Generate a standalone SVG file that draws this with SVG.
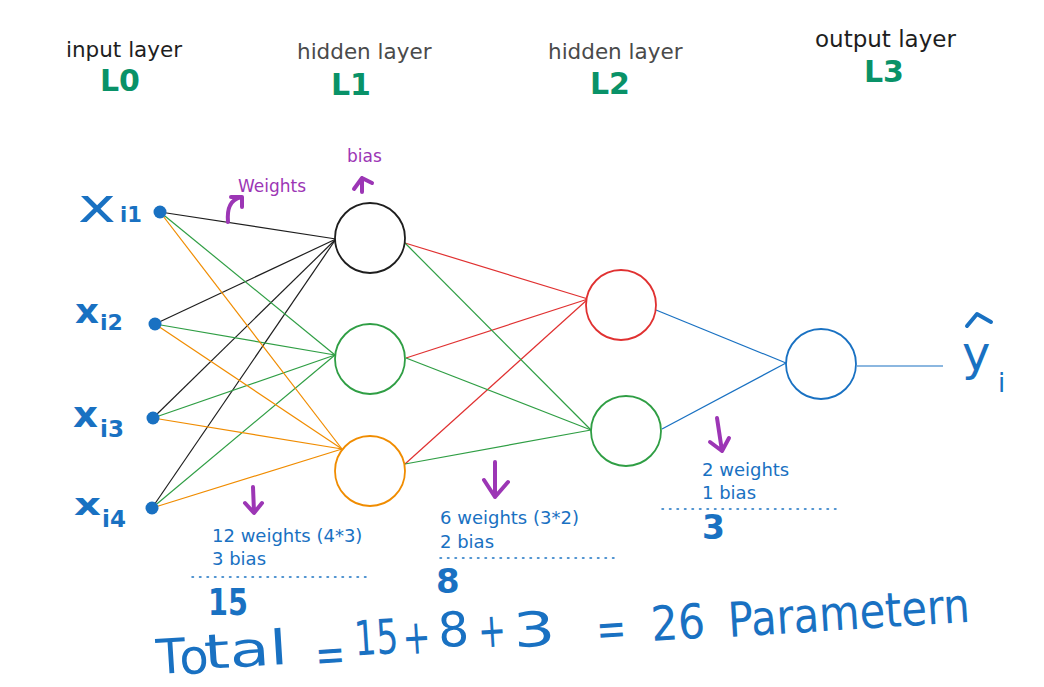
<svg xmlns="http://www.w3.org/2000/svg" width="1044" height="687" viewBox="0 0 1044 687">
<style>
text{font-family:"DejaVu Sans","Liberation Sans",sans-serif}
.lbl{font-size:21.5px}
.lay{font-size:30px;font-weight:bold;fill:#099268}
.pur{font-size:17px;fill:#9c36b5}
.ann{font-size:18px;fill:#1971c2}
.big{font-weight:bold;fill:#1971c2}
.inp{fill:#1971c2;font-weight:bold}
.thin{font-weight:normal}
.node{fill:#fff;stroke-width:1.8}
.dot{fill:#1971c2}
.arr{fill:none;stroke:#9c36b5;stroke-width:4;stroke-linecap:round;stroke-linejoin:round}
.dash{stroke:#1971c2;stroke-width:1.5;stroke-dasharray:1.5 6;stroke-linecap:round}
.tot{fill:#1971c2;font-size:48px}
#connectors line{stroke-width:1.2}
</style>
<rect width="1044" height="687" fill="#fff"/>

<!-- layer headers -->
<text class="lbl" x="66" y="57" fill="#1e1e1e">input layer</text>
<text class="lay" x="100" y="91">L0</text>
<text class="lbl" x="297" y="59" fill="#4a4a4a">hidden layer</text>
<text class="lay" x="331" y="95">L1</text>
<text class="lbl" x="548" y="59" fill="#4a4a4a">hidden layer</text>
<text class="lay" x="590" y="94">L2</text>
<text class="lbl" x="815" y="47" fill="#1e1e1e" style="font-size:23px">output layer</text>
<text class="lay" x="864" y="82">L3</text>

<!-- connectors -->
<g id="connectors">
<g stroke="#1e1e1e">
<line x1="160" y1="212" x2="336" y2="239"/>
<line x1="155" y1="324" x2="336" y2="239"/>
<line x1="153" y1="418" x2="336" y2="239"/>
<line x1="152" y1="508" x2="336" y2="239"/>
</g>
<g stroke="#2f9e44">
<line x1="160" y1="212" x2="335" y2="355"/>
<line x1="155" y1="324" x2="335" y2="355"/>
<line x1="153" y1="418" x2="335" y2="355"/>
<line x1="152" y1="508" x2="335" y2="355"/>
</g>
<g stroke="#f08c00">
<line x1="160" y1="212" x2="342" y2="449"/>
<line x1="155" y1="324" x2="342" y2="449"/>
<line x1="153" y1="418" x2="342" y2="449"/>
<line x1="152" y1="508" x2="342" y2="449"/>
</g>
<g stroke="#e03131">
<line x1="405" y1="243" x2="588" y2="299"/>
<line x1="406" y1="358" x2="588" y2="299"/>
<line x1="405" y1="464" x2="588" y2="299"/>
</g>
<g stroke="#2f9e44">
<line x1="405" y1="243" x2="591" y2="430"/>
<line x1="406" y1="358" x2="591" y2="430"/>
<line x1="405" y1="464" x2="591" y2="430"/>
</g>
<g stroke="#1971c2">
<line x1="656" y1="310" x2="786" y2="363"/>
<line x1="662" y1="429" x2="786" y2="363"/>
<line x1="857" y1="366" x2="943" y2="366"/>
</g>
</g>

<!-- input nodes -->
<g id="x1"><circle class="dot" cx="160" cy="212" r="6.5"/><text class="inp thin" x="78" y="222" font-size="48" textLength="38" lengthAdjust="spacingAndGlyphs">x</text><text class="inp" x="120" y="222" font-size="21">i1</text></g>
<g id="x2"><circle class="dot" cx="155" cy="324" r="6.5"/><text class="inp" x="75" y="323" font-size="33" textLength="24" lengthAdjust="spacingAndGlyphs">x</text><text class="inp" x="100" y="330" font-size="22">i2</text></g>
<g id="x3"><circle class="dot" cx="153" cy="418" r="6.5"/><text class="inp" x="73" y="427" font-size="36" textLength="25" lengthAdjust="spacingAndGlyphs">x</text><text class="inp" x="100" y="437" font-size="23">i3</text></g>
<g id="x4"><circle class="dot" cx="152" cy="508" r="6.5"/><text class="inp" x="74" y="515" font-size="30" textLength="27" lengthAdjust="spacingAndGlyphs">x</text><text class="inp" x="102" y="527" font-size="23">i4</text></g>

<!-- hidden layer 1 -->
<g id="h1a"><circle class="node" cx="370" cy="238" r="35" stroke="#1e1e1e"/></g>
<g id="h1b"><circle class="node" cx="370" cy="359" r="35" stroke="#2f9e44"/></g>
<g id="h1c"><circle class="node" cx="370" cy="471" r="35" stroke="#f08c00"/></g>
<!-- hidden layer 2 -->
<g id="h2a"><circle class="node" cx="621" cy="305" r="35" stroke="#e03131"/></g>
<g id="h2b"><circle class="node" cx="626" cy="431" r="35" stroke="#2f9e44"/></g>
<!-- output -->
<g id="out"><circle class="node" cx="821" cy="364" r="35" stroke="#1971c2"/></g>
<g id="yhat">
<text class="inp thin" x="962" y="370" font-size="48">y</text>
<text class="inp thin" x="998" y="392" font-size="26">i</text>
<path d="M967,326 L977,314 L991,322" fill="none" stroke="#1971c2" stroke-width="4" stroke-linecap="round" stroke-linejoin="round"/>
</g>

<!-- purple annotations -->
<g id="weights-note">
<path class="arr" d="M228,222 C227,210 229,200 241,197 M231,197 L242,197 L242,207"/>
<text class="pur" x="238" y="192">Weights</text>
</g>
<g id="bias-note">
<path class="arr" d="M362,192 L362,178 M354,189 L362,178 L372,183"/>
<text class="pur" x="347" y="162">bias</text>
</g>
<path class="arr" d="M253,487 L254,512 M245,503 L254,513 L262,503"/>
<path class="arr" d="M495,462 L495,497 M484,480 L495,497 L508,482"/>
<path class="arr" d="M717,418 L722,451 M710,442 L722,451 L729,438"/>

<!-- blue counts -->
<g id="count1">
<text class="ann" x="212" y="542">12 weights (4*3)</text>
<text class="ann" x="212" y="565">3 bias</text>
<line class="dash" x1="192" y1="577" x2="368" y2="577"/>
<text class="big" x="208" y="615" font-size="38" textLength="40" lengthAdjust="spacingAndGlyphs">15</text>
</g>
<g id="count2">
<text class="ann" x="440" y="524">6 weights (3*2)</text>
<text class="ann" x="440" y="548">2 bias</text>
<line class="dash" x1="440" y1="558" x2="617" y2="558"/>
<text class="big" x="436" y="593" font-size="34">8</text>
</g>
<g id="count3">
<text class="ann" x="702" y="476">2 weights</text>
<text class="ann" x="702" y="499">1 bias</text>
<line class="dash" x1="662" y1="509" x2="838" y2="509"/>
<text class="big" x="702" y="539" font-size="33">3</text>
</g>

<!-- total -->
<g id="total" transform="rotate(-3.6 158 672)">
<text class="tot" x="157" y="674" font-size="52">T</text>
<text class="tot" x="180" y="676" font-size="22">o</text>
<text class="tot" x="205" y="672" textLength="84" lengthAdjust="spacingAndGlyphs">tal</text>
<text class="tot" x="316" y="682" textLength="30" lengthAdjust="spacingAndGlyphs">=</text>
<text class="tot" x="356" y="668" font-size="54" textLength="44" lengthAdjust="spacingAndGlyphs">15</text>
<text class="tot" x="404" y="670" textLength="28" lengthAdjust="spacingAndGlyphs">+</text>
<text class="tot" x="440" y="665" textLength="31" lengthAdjust="spacingAndGlyphs">8</text>
<text class="tot" x="480" y="668" textLength="28" lengthAdjust="spacingAndGlyphs">+</text>
<text class="tot" x="515" y="670" textLength="42" lengthAdjust="spacingAndGlyphs">3</text>
<text class="tot" x="598" y="674" textLength="30" lengthAdjust="spacingAndGlyphs">=</text>
<text class="tot" x="653" y="672" textLength="54" lengthAdjust="spacingAndGlyphs">26</text>
<text class="tot" x="730" y="673" font-size="44" textLength="242" lengthAdjust="spacingAndGlyphs">Parametern</text>
</g>
</svg>
